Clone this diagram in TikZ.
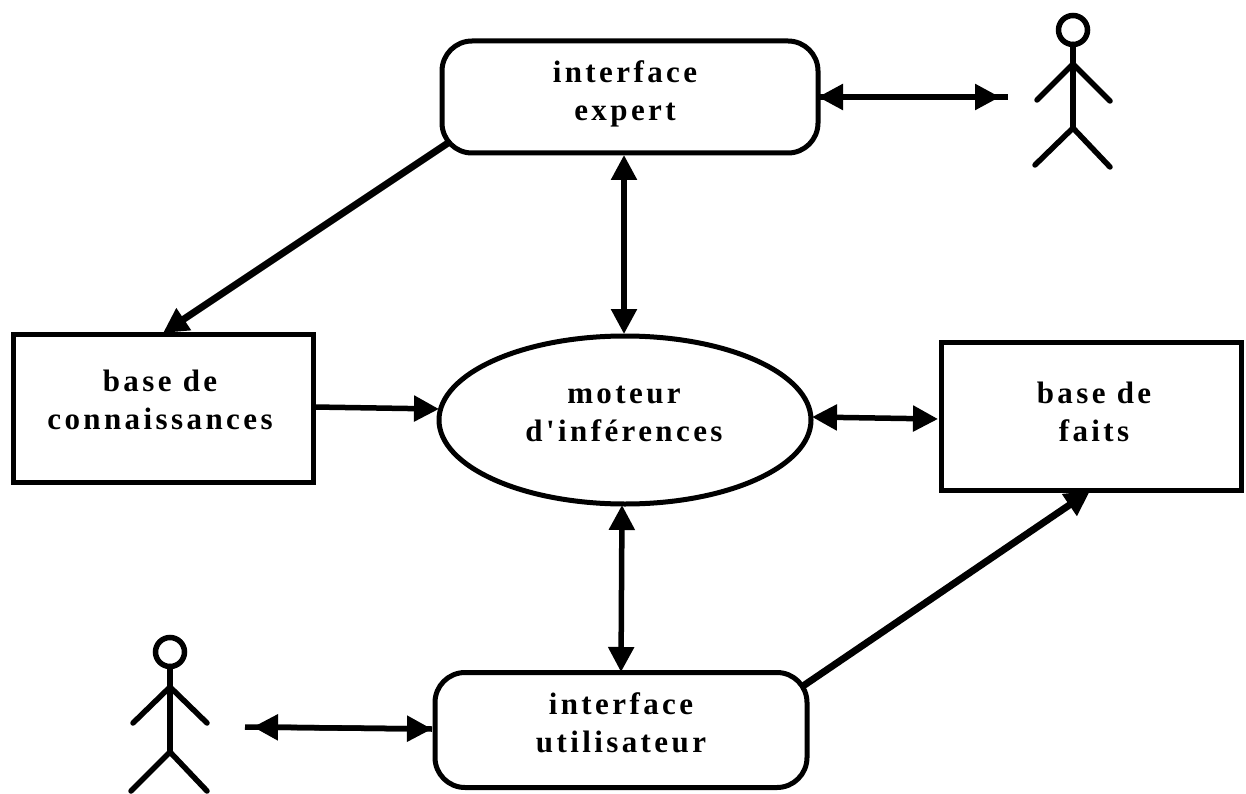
\documentclass[tikz,border=0pt]{standalone}
\usepackage{fontspec}
\newfontfamily\lblfont{Liberation Serif}[LetterSpace=11]
\usetikzlibrary{shapes.geometric,arrows.meta}
\begin{document}
\begin{tikzpicture}[x=1pt,y=-1pt,
  every node/.style={inner sep=0pt,outer sep=0pt},
  box/.style={draw=black,line width=5pt},
  lbl/.style={align=center,font=\lblfont\bfseries\fontsize{31}{37.5}\selectfont},
  con/.style={draw=black,line width=5.5pt},
  both/.style={con,{Triangle[length=25pt,width=25pt]}-{Triangle[length=25pt,width=25pt]}},
  one/.style={con,-{Triangle[length=25pt,width=25pt]}},
  diag/.style={one,line width=7pt},
  fig/.style={draw=black,line width=5.5pt,line cap=round,line join=round}]
\useasboundingbox (0,0) rectangle (1246,794);
\node[box,rounded corners=30pt,minimum width=376pt,minimum height=112pt] (ie) at (630,97) {};
\node[lbl] (tie) at (625,94) {interface\\expert};
\node[box,minimum width=300pt,minimum height=148pt] (bc) at (163,408) {};
\node[lbl] (tbc) at (160,400) {base de\\connaissances};
\node[box,ellipse,minimum width=372pt,minimum height=168pt] (mi) at (625,420) {};
\node[lbl] (tmi) at (624,414) {moteur\\d'inférences};
\node[box,minimum width=300pt,minimum height=148pt] (bf) at (1091,416) {};
\node[lbl] (tbf) at (1094,412) {base de\\faits};
\node[box,rounded corners=30pt,minimum width=372pt,minimum height=115pt] (iu) at (621,730) {};
\node[lbl] (tiu) at (621,723) {interface\\utilisateur};
\coordinate (a1) at (1008,97);
\coordinate (a1t) at (1000,97);
\coordinate (a2) at (245,727);
\coordinate (a2t) at (253,727);
\coordinate (s1) at (448,143);
\coordinate (e1) at (163,333);
\coordinate (s2) at (803,686);
\coordinate (e2) at (1090,491);
\coordinate (t1) at (624,155);
\coordinate (t2) at (624,334);
\coordinate (t3) at (622,505);
\coordinate (t4) at (621,672);
\coordinate (r1) at (812,417);
\coordinate (r2) at (938,419);
\coordinate (l1) at (314,407);
\coordinate (l2) at (439,409);
\coordinate (u1) at (432,729);
\draw[con] (ie.east) -- (a1);
\draw[both] (ie.east) -- (a1t);
\draw[both] (t1) -- (t2);
\draw[diag] (s1) -- (e1);
\draw[one] (l1) -- (l2);
\draw[both] (r1) -- (r2);
\draw[both] (t3) -- (t4);
\draw[diag] (s2) -- (e2);
\draw[con] (a2) -- (u1);
\draw[both] (a2t) -- (u1);
\node[draw=black,line width=5.5pt,circle,minimum size=29pt] (h1) at (1073,30) {};
\coordinate (b1) at (1073,128);
\coordinate (n1) at (1073,64);
\coordinate (hl1) at (1037,100);
\coordinate (hr1) at (1110,101);
\coordinate (fl1) at (1035,165);
\coordinate (fr1) at (1110,167);
\draw[fig] (h1) -- (b1);
\draw[fig] (hl1) -- (n1) -- (hr1);
\draw[fig] (fl1) -- (b1) -- (fr1);
\node[draw=black,line width=5.5pt,circle,minimum size=29pt] (h2) at (170,652) {};
\coordinate (b2) at (170,752);
\coordinate (n2) at (170,687);
\coordinate (hl2) at (133,723);
\coordinate (hr2) at (207,723);
\coordinate (fl2) at (131,791);
\coordinate (fr2) at (207,791);
\draw[fig] (h2) -- (b2);
\draw[fig] (hl2) -- (n2) -- (hr2);
\draw[fig] (fl2) -- (b2) -- (fr2);
\end{tikzpicture}
\end{document}
